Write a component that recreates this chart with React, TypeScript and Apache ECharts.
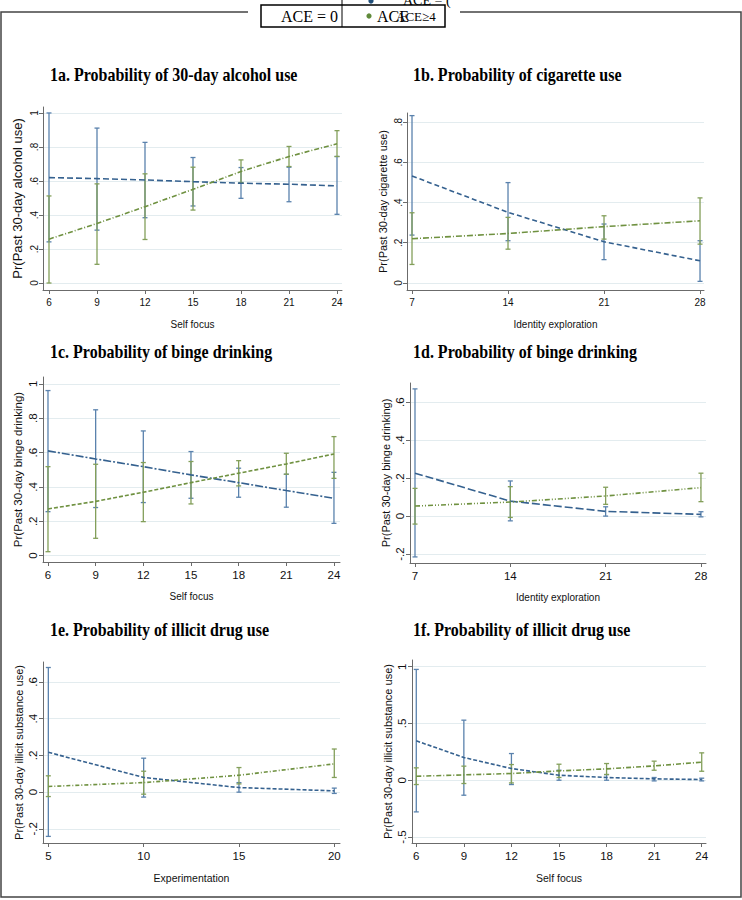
import React, { useEffect, useRef } from 'react';
import * as echarts from 'echarts';

// ---------- data ----------
const titles = [
  '1a. Probability of 30-day alcohol use',
  '1b. Probability of cigarette use',
  '1c. Probability of binge drinking',
  '1d. Probability of binge drinking',
  '1e. Probability of illicit drug use',
  '1f. Probability of illicit drug use',
];
const xNames = ['Self focus', 'Identity exploration', 'Self focus', 'Identity exploration', 'Experimentation', 'Self focus'];
const yNames = [
  'Pr(Past 30-day alcohol use)',
  'Pr(Past 30-day cigarette use)',
  'Pr(Past 30-day binge drinking)',
  'Pr(Past 30-day binge drinking)',
  'Pr(Past 30-day illicit substance use)',
  'Pr(Past 30-day illicit substance use)',
];

const xSelfFocus = [6, 9, 12, 15, 18, 21, 24];
const xIdentity = [7, 14, 21, 28];
const xExperimentation = [5, 10, 15, 20];

const yTicks1a = [0, 0.2, 0.4, 0.6, 0.8, 1];
const yTicks1b = [0, 0.2, 0.4, 0.6, 0.8];
const yTicks1c = [0, 0.2, 0.4, 0.6, 0.8, 1];
const yTicks1d = [-0.2, 0, 0.2, 0.4, 0.6];
const yTicks1e = [-0.2, 0, 0.2, 0.4, 0.6];
const yTicks1f = [-0.5, 0, 0.5, 1];

// 1a
const blueFit1a = [0.62, 0.614, 0.606, 0.596, 0.587, 0.581, 0.571];
const blueLo1a = [0.242, 0.311, 0.384, 0.453, 0.498, 0.478, 0.404];
const blueHi1a = [1.0, 0.911, 0.827, 0.738, 0.679, 0.681, 0.744];
const greenFit1a = [0.258, 0.35, 0.449, 0.551, 0.656, 0.744, 0.819];
const greenLo1a = [0.0, 0.11, 0.256, 0.429, 0.591, 0.685, 0.744];
const greenHi1a = [0.512, 0.583, 0.642, 0.681, 0.724, 0.803, 0.896];
// 1b
const blueFit1b = [0.532, 0.351, 0.205, 0.11];
const blueLo1b = [0.238, 0.21, 0.116, 0.008];
const blueHi1b = [0.832, 0.499, 0.293, 0.21];
const greenFit1b = [0.22, 0.246, 0.28, 0.309];
const greenLo1b = [0.092, 0.168, 0.218, 0.193];
const greenHi1b = [0.349, 0.326, 0.334, 0.423];
// 1c
const blueFit1c = [0.61, 0.563, 0.518, 0.47, 0.425, 0.379, 0.334];
const blueLo1c = [0.256, 0.28, 0.309, 0.334, 0.34, 0.282, 0.188];
const blueHi1c = [0.961, 0.849, 0.726, 0.606, 0.509, 0.474, 0.485];
const greenFit1c = [0.272, 0.316, 0.369, 0.425, 0.48, 0.534, 0.592];
const greenLo1c = [0.023, 0.101, 0.198, 0.301, 0.406, 0.474, 0.45];
const greenHi1c = [0.518, 0.532, 0.542, 0.548, 0.553, 0.596, 0.693];
// 1d
const blueFit1d = [0.226, 0.079, 0.025, 0.009];
const blueLo1d = [-0.215, -0.025, 0.0, -0.004];
const blueHi1d = [0.67, 0.185, 0.049, 0.023];
const greenFit1d = [0.053, 0.074, 0.106, 0.15];
const greenLo1d = [-0.042, -0.007, 0.062, 0.076];
const greenHi1d = [0.146, 0.155, 0.152, 0.226];
// 1e
const blueFit1e = [0.217, 0.08, 0.025, 0.007];
const blueLo1e = [-0.241, -0.027, 0.0, -0.007];
const blueHi1e = [0.679, 0.185, 0.052, 0.022];
const greenFit1e = [0.031, 0.052, 0.092, 0.154];
const greenLo1e = [-0.024, -0.011, 0.045, 0.08];
const greenHi1e = [0.089, 0.114, 0.134, 0.235];
// 1f
const blueFit1f = [0.347, 0.2, 0.103, 0.044, 0.024, 0.012, 0.006];
const blueLo1f = [-0.279, -0.132, -0.038, 0.0, 0.0, -0.006, -0.006];
const blueHi1f = [0.976, 0.529, 0.235, 0.088, 0.05, 0.024, 0.018];
const greenFit1f = [0.035, 0.047, 0.059, 0.082, 0.1, 0.126, 0.159];
const greenLo1f = [-0.038, -0.029, -0.024, 0.024, 0.05, 0.088, 0.079];
const greenHi1f = [0.109, 0.124, 0.138, 0.141, 0.147, 0.168, 0.241];

const legendLabels = ['ACE = 0', 'ACE', 'ACE\u22654', 'ACE = ('];

const panelData = [
  { x: xSelfFocus, yTicks: yTicks1a, bf: blueFit1a, bl: blueLo1a, bh: blueHi1a, gf: greenFit1a, gl: greenLo1a, gh: greenHi1a },
  { x: xIdentity, yTicks: yTicks1b, bf: blueFit1b, bl: blueLo1b, bh: blueHi1b, gf: greenFit1b, gl: greenLo1b, gh: greenHi1b },
  { x: xSelfFocus, yTicks: yTicks1c, bf: blueFit1c, bl: blueLo1c, bh: blueHi1c, gf: greenFit1c, gl: greenLo1c, gh: greenHi1c },
  { x: xIdentity, yTicks: yTicks1d, bf: blueFit1d, bl: blueLo1d, bh: blueHi1d, gf: greenFit1d, gl: greenLo1d, gh: greenHi1d },
  { x: xExperimentation, yTicks: yTicks1e, bf: blueFit1e, bl: blueLo1e, bh: blueHi1e, gf: greenFit1e, gl: greenLo1e, gh: greenHi1e },
  { x: xSelfFocus, yTicks: yTicks1f, bf: blueFit1f, bl: blueLo1f, bh: blueHi1f, gf: greenFit1f, gl: greenLo1f, gh: greenHi1f },
];

// ---------- layout / style ----------
const layouts = [
  { left: 43, top: 107, width: 299, height: 183, xMin: 5.625, xMax: 24.3125, yMin: -0.041, yMax: 1.035, tx: 50, ty: 75, bd: [6, 3], gd: [5, 2, 1, 2], tf: 10, yf: 13, xf: 10, fam: 'n' },
  { left: 407, top: 113, width: 297, height: 177, xMin: 6.635, xMax: 28.29, yMin: -0.035, yMax: 0.845, tx: 413, ty: 75, bd: [5, 3], gd: [6, 2, 1, 2], tf: 10, yf: 11, xf: 10, fam: 'n' },
  { left: 43, top: 377, width: 297, height: 185, xMin: 5.686, xMax: 24.38, yMin: -0.037, yMax: 1.04, tx: 50, ty: 352, bd: [8, 2, 2, 2], gd: [4, 2], tf: 11.5, yf: 11.5, xf: 10, fam: 'r' },
  { left: 410, top: 383, width: 296, height: 180, xMin: 6.633, xMax: 28.37, yMin: -0.247, yMax: 0.701, tx: 413, ty: 352, bd: [8, 3], gd: [5, 2, 1, 2, 1, 2], tf: 11.5, yf: 11, xf: 10, fam: 'r' },
  { left: 43, top: 662, width: 297, height: 181, xMin: 4.72, xMax: 20.3, yMin: -0.277, yMax: 0.709, tx: 50, ty: 630, bd: [4, 2], gd: [4, 2, 1, 2], tf: 11.5, yf: 11, xf: 10.5, fam: 'r' },
  { left: 412, top: 660, width: 294, height: 183, xMin: 5.73, xMax: 24.27, yMin: -0.553, yMax: 1.059, tx: 413, ty: 630, bd: [4, 2], gd: [5, 2, 1, 2], tf: 11.5, yf: 11, xf: 10.5, fam: 'r' },
];

const BLUE_LINE = '#35618f';
const BLUE_BAR = '#5a82ad';
const GREEN_LINE = '#6f9140';
const GREEN_BAR = '#839f5a';
const AXIS = '#6b6b6b';
const GRID = '#e3ecef';
const NARROW = '"Liberation Sans Narrow", "Liberation Sans", Arial, sans-serif';
const SANS = '"Liberation Sans", Arial, sans-serif';
const SERIF = '"Liberation Serif", "Times New Roman", serif';

const fmt = (v: number) => {
  const s = String(Math.round(v * 1000) / 1000);
  return s.replace(/^(-?)0\./, '$1.');
};

const makeBar = (color: string) => (params: any, api: any) => {
  const x = api.value(0);
  const lo = api.value(1);
  const hi = api.value(2);
  const a = api.coord([x, lo]);
  const b = api.coord([x, hi]);
  const w = 2.5;
  const style = { stroke: color, lineWidth: 1.3, fill: 'none' };
  return {
    type: 'group',
    children: [
      { type: 'line', shape: { x1: a[0], y1: a[1], x2: b[0], y2: b[1] }, style },
      { type: 'line', shape: { x1: a[0] - w, y1: a[1], x2: a[0] + w, y2: a[1] }, style },
      { type: 'line', shape: { x1: b[0] - w, y1: b[1], x2: b[0] + w, y2: b[1] }, style },
    ],
  };
};

export default function App() {
  const ref = useRef<HTMLDivElement>(null);
  useEffect(() => {
    document.body.style.margin = '0';
    const chart = echarts.init(ref.current!, null, { renderer: 'svg' });

    const grids: any[] = [];
    const xAxes: any[] = [];
    const yAxes: any[] = [];
    const series: any[] = [];
    const graphics: any[] = [];

    panelData.forEach((p, i) => {
      const L = layouts[i];
      const tickFam = L.fam === 'n' ? NARROW : SANS;
      grids.push({ left: L.left, top: L.top, width: L.width, height: L.height, containLabel: false });
      xAxes.push({
        type: 'value',
        gridIndex: i,
        min: L.xMin,
        max: L.xMax,
        name: xNames[i],
        nameLocation: 'middle',
        nameGap: 29,
        nameTextStyle: { fontFamily: NARROW, fontSize: L.xf, color: '#111' },
        axisLine: { show: true, onZero: false, lineStyle: { color: AXIS, width: 1 } },
        axisTick: { show: true, length: 4, customValues: p.x, lineStyle: { color: AXIS } },
        axisLabel: { customValues: p.x, fontFamily: tickFam, fontSize: L.tf, color: '#111', margin: 7, formatter: (v: number) => fmt(v) },
        splitLine: { show: false },
      });
      yAxes.push({
        type: 'value',
        gridIndex: i,
        min: L.yMin,
        max: L.yMax,
        name: yNames[i],
        nameLocation: 'middle',
        nameGap: 19,
        nameRotate: 90,
        nameTextStyle: { fontFamily: SANS, fontSize: L.yf, color: '#111' },
        axisLine: { show: true, onZero: false, lineStyle: { color: AXIS, width: 1 } },
        axisTick: { show: true, length: 4, customValues: p.yTicks, lineStyle: { color: AXIS } },
        axisLabel: { customValues: p.yTicks, rotate: 90, fontFamily: tickFam, fontSize: L.tf, color: '#111', margin: 4, formatter: (v: number) => fmt(v) },
        splitLine: { show: true, lineStyle: { color: GRID, width: 1 } },
      });
      series.push({
        type: 'custom',
        xAxisIndex: i,
        yAxisIndex: i,
        renderItem: makeBar(BLUE_BAR),
        data: p.x.map((v, k) => [v, p.bl[k], p.bh[k]]),
        z: 2,
      });
      series.push({
        type: 'custom',
        xAxisIndex: i,
        yAxisIndex: i,
        renderItem: makeBar(GREEN_BAR),
        data: p.x.map((v, k) => [v, p.gl[k], p.gh[k]]),
        z: 2,
      });
      series.push({
        type: 'line',
        xAxisIndex: i,
        yAxisIndex: i,
        showSymbol: false,
        data: p.x.map((v, k) => [v, p.bf[k]]),
        lineStyle: { color: BLUE_LINE, width: 1.6, type: L.bd },
        z: 3,
      });
      series.push({
        type: 'line',
        xAxisIndex: i,
        yAxisIndex: i,
        showSymbol: false,
        data: p.x.map((v, k) => [v, p.gf[k]]),
        lineStyle: { color: GREEN_LINE, width: 1.6, type: L.gd },
        z: 3,
      });
      graphics.push({
        type: 'text',
        x: L.tx,
        y: L.ty,
        scaleY: 1.12,
        style: { text: titles[i], fontFamily: SERIF, fontWeight: 'bold', fontSize: 16, fill: '#000', verticalAlign: 'middle' },
      });
    });

    // frame
    graphics.push({
      type: 'polyline',
      shape: { points: [[248, 12], [1, 12], [1, 897], [741, 897], [741, 12], [460, 12]] },
      style: { stroke: '#444', lineWidth: 1.5, fill: 'none' },
    });
    // legend remnants
    graphics.push({ type: 'circle', shape: { cx: 371, cy: 1, r: 2.6 }, style: { fill: '#1f4e79' } });
    graphics.push({
      type: 'text', x: 403, y: 0,
      style: { text: legendLabels[3], fontFamily: SERIF, fontSize: 14, fill: '#000', verticalAlign: 'middle' },
    });
    graphics.push({ type: 'line', shape: { x1: 342, y1: 0, x2: 342, y2: 27 }, style: { stroke: '#000', lineWidth: 1 } });
    graphics.push({ type: 'rect', shape: { x: 261, y: 5, width: 184, height: 22 }, style: { stroke: '#000', lineWidth: 1.5, fill: 'none' } });
    graphics.push({
      type: 'text', x: 338, y: 16,
      style: { text: legendLabels[0], fontFamily: SERIF, fontSize: 16, fill: '#000', align: 'right', verticalAlign: 'middle' },
    });
    graphics.push({ type: 'circle', shape: { cx: 369, cy: 16, r: 2.6 }, style: { fill: '#5f8a3a' } });
    graphics.push({
      type: 'text', x: 377, y: 16,
      style: { text: legendLabels[1], fontFamily: SERIF, fontSize: 16, fill: '#000', verticalAlign: 'middle' },
    });
    graphics.push({
      type: 'text', x: 396, y: 16,
      style: { text: legendLabels[2], fontFamily: SERIF, fontSize: 13, fill: '#000', verticalAlign: 'middle' },
    });

    chart.setOption({
      animation: false,
      backgroundColor: '#fff',
      grid: grids,
      xAxis: xAxes,
      yAxis: yAxes,
      series,
      graphic: graphics,
    });
    return () => chart.dispose();
  }, []);
  return <div ref={ref} style={{ width: 742, height: 900 }} />;
}
